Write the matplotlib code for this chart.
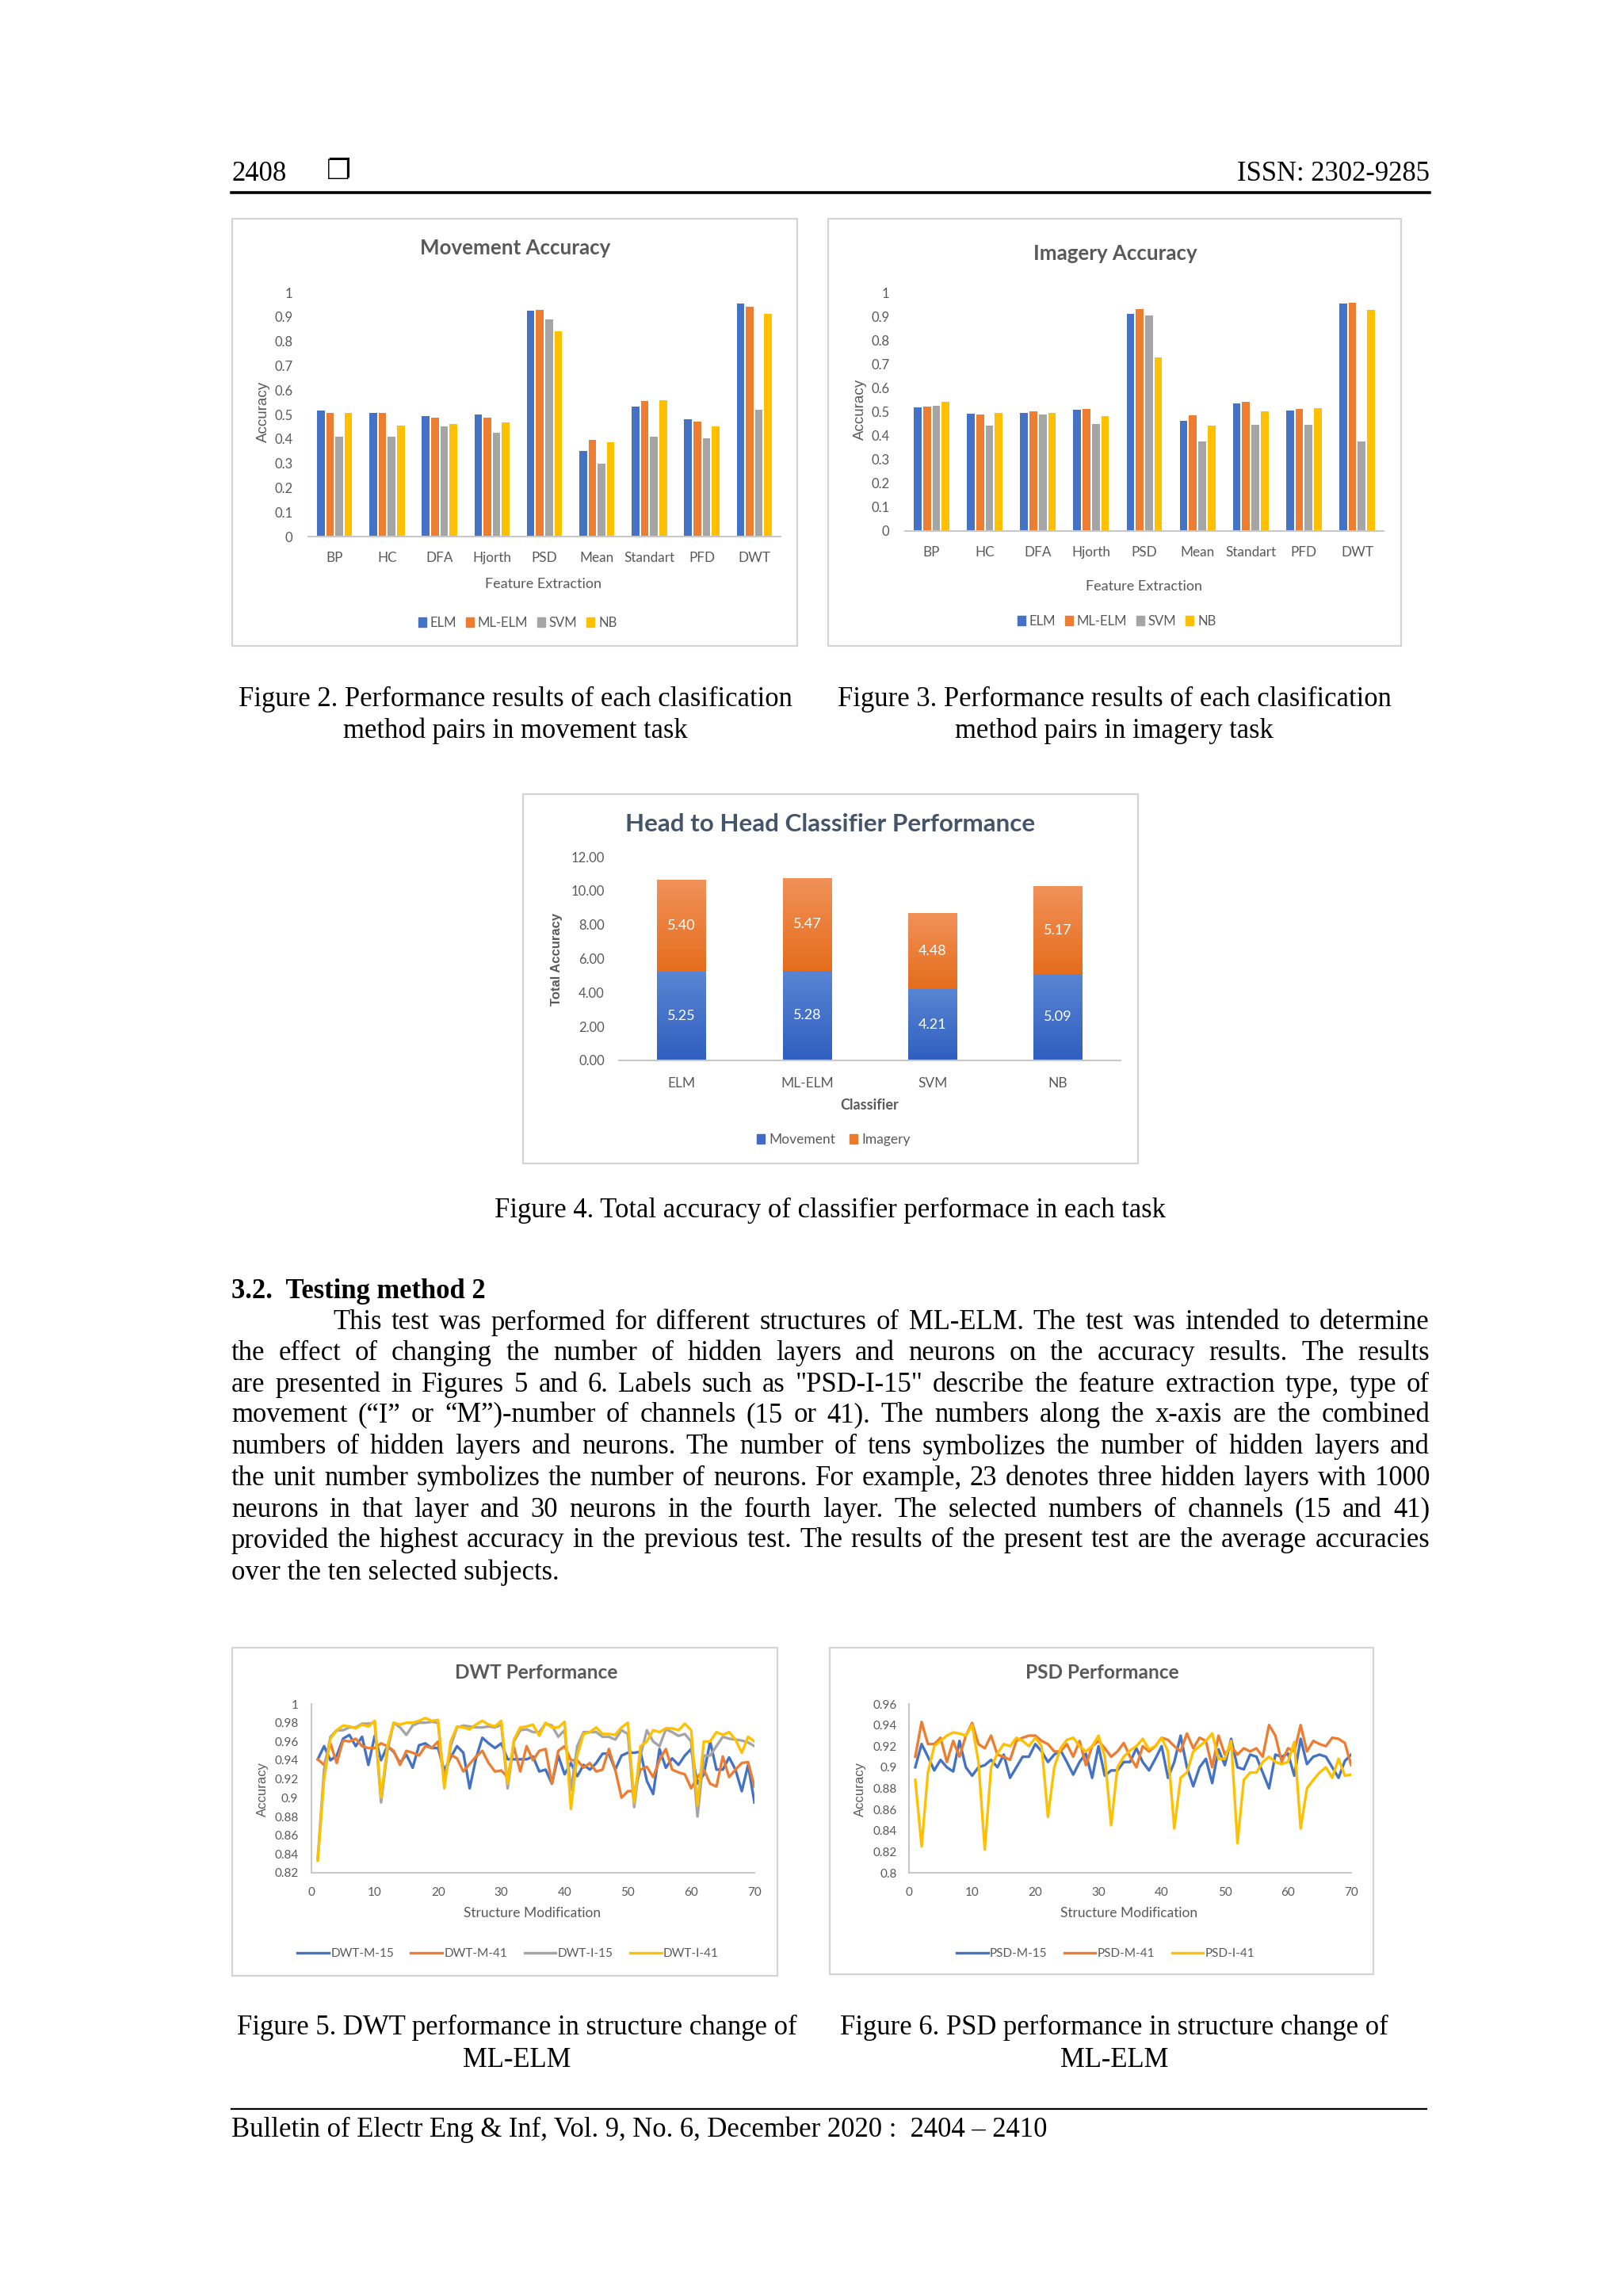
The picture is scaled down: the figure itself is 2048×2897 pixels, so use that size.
import numpy as np
import matplotlib
matplotlib.use("Agg")
import matplotlib.pyplot as plt
from matplotlib.patches import Rectangle
from matplotlib.lines import Line2D
from matplotlib.colors import LinearSegmentedColormap

# ---- data -------------------------------------------------------------
features = ["BP", "HC", "DFA", "Hjorth", "PSD", "Mean", "Standart", "PFD", "DWT"]
classifiers = ["ELM", "ML-ELM", "SVM", "NB"]

mov_elm = [0.516, 0.508, 0.492, 0.500, 0.925, 0.350, 0.532, 0.480, 0.955]
mov_mlelm = [0.508, 0.505, 0.488, 0.488, 0.928, 0.395, 0.555, 0.470, 0.940]
mov_svm = [0.410, 0.410, 0.450, 0.425, 0.891, 0.300, 0.410, 0.403, 0.520]
mov_nb = [0.508, 0.453, 0.460, 0.468, 0.840, 0.385, 0.557, 0.452, 0.913]

img_elm = [0.520, 0.493, 0.497, 0.510, 0.913, 0.462, 0.537, 0.508, 0.957]
img_mlelm = [0.524, 0.490, 0.505, 0.514, 0.934, 0.486, 0.542, 0.513, 0.960]
img_svm = [0.528, 0.444, 0.490, 0.450, 0.907, 0.377, 0.448, 0.448, 0.377]
img_nb = [0.545, 0.497, 0.497, 0.485, 0.730, 0.444, 0.505, 0.517, 0.929]

h2h_movement = [5.25, 5.28, 4.21, 5.09]
h2h_imagery = [5.40, 5.47, 4.48, 5.17]

structure = np.arange(1, 71)
dwt_m15 = [0.941, 0.955, 0.940, 0.945, 0.963, 0.967, 0.955, 0.965, 0.935, 0.966,
           0.940, 0.955, 0.949, 0.937, 0.946, 0.932, 0.956, 0.958, 0.953, 0.953,
           0.929, 0.943, 0.955, 0.948, 0.910, 0.942, 0.964, 0.958, 0.953, 0.958,
           0.941, 0.941, 0.941, 0.941, 0.944, 0.928, 0.930, 0.915, 0.945, 0.925,
           0.937, 0.923, 0.935, 0.930, 0.937, 0.947, 0.947, 0.930, 0.945, 0.948,
           0.948, 0.949, 0.918, 0.904, 0.952, 0.932, 0.942, 0.935, 0.945, 0.952,
           0.915, 0.925, 0.960, 0.930, 0.930, 0.943, 0.930, 0.907, 0.935, 0.895]
dwt_m41 = [0.941, 0.935, 0.958, 0.937, 0.961, 0.960, 0.963, 0.955, 0.953, 0.953,
           0.958, 0.955, 0.950, 0.935, 0.950, 0.948, 0.945, 0.955, 0.953, 0.960,
           0.922, 0.946, 0.942, 0.928, 0.936, 0.944, 0.950, 0.937, 0.928, 0.929,
           0.922, 0.954, 0.928, 0.955, 0.940, 0.950, 0.952, 0.915, 0.950, 0.955,
           0.940, 0.940, 0.932, 0.937, 0.928, 0.930, 0.952, 0.930, 0.900, 0.907,
           0.907, 0.930, 0.933, 0.922, 0.940, 0.952, 0.930, 0.927, 0.925, 0.910,
           0.922, 0.930, 0.915, 0.912, 0.944, 0.922, 0.930, 0.937, 0.938, 0.912]
dwt_i15 = [0.835, 0.930, 0.965, 0.972, 0.972, 0.975, 0.975, 0.979, 0.979, 0.980,
           0.895, 0.950, 0.980, 0.975, 0.967, 0.977, 0.980, 0.980, 0.981, 0.980,
           0.915, 0.955, 0.975, 0.977, 0.976, 0.975, 0.975, 0.976, 0.975, 0.978,
           0.910, 0.960, 0.972, 0.973, 0.970, 0.970, 0.979, 0.977, 0.965, 0.972,
           0.908, 0.955, 0.970, 0.970, 0.970, 0.965, 0.965, 0.962, 0.972, 0.968,
           0.890, 0.945, 0.972, 0.960, 0.955, 0.973, 0.970, 0.966, 0.968, 0.960,
           0.880, 0.945, 0.945, 0.955, 0.965, 0.963, 0.962, 0.961, 0.959, 0.955]
dwt_i41 = [0.833, 0.920, 0.963, 0.972, 0.977, 0.976, 0.974, 0.978, 0.976, 0.982,
           0.900, 0.955, 0.980, 0.978, 0.980, 0.980, 0.982, 0.985, 0.982, 0.983,
           0.910, 0.960, 0.976, 0.975, 0.973, 0.978, 0.982, 0.978, 0.976, 0.982,
           0.915, 0.962, 0.975, 0.976, 0.978, 0.966, 0.980, 0.975, 0.975, 0.981,
           0.888, 0.945, 0.968, 0.970, 0.975, 0.968, 0.968, 0.967, 0.975, 0.980,
           0.895, 0.955, 0.960, 0.972, 0.970, 0.974, 0.974, 0.972, 0.979, 0.972,
           0.892, 0.960, 0.960, 0.970, 0.967, 0.970, 0.962, 0.948, 0.965, 0.960]

psd_m15 = [0.900, 0.922, 0.910, 0.897, 0.907, 0.900, 0.896, 0.925, 0.900, 0.892,
           0.900, 0.902, 0.907, 0.900, 0.912, 0.890, 0.900, 0.910, 0.910, 0.922,
           0.915, 0.905, 0.912, 0.916, 0.905, 0.893, 0.905, 0.913, 0.890, 0.920,
           0.892, 0.897, 0.897, 0.905, 0.905, 0.918, 0.905, 0.897, 0.908, 0.920,
           0.890, 0.905, 0.930, 0.900, 0.882, 0.900, 0.908, 0.885, 0.917, 0.902,
           0.927, 0.900, 0.898, 0.912, 0.910, 0.895, 0.880, 0.912, 0.910, 0.913,
           0.892, 0.927, 0.903, 0.910, 0.912, 0.910, 0.900, 0.890, 0.906, 0.912]
psd_m41 = [0.910, 0.943, 0.922, 0.922, 0.928, 0.905, 0.925, 0.910, 0.930, 0.942,
           0.922, 0.918, 0.930, 0.912, 0.910, 0.907, 0.925, 0.928, 0.930, 0.930,
           0.925, 0.922, 0.915, 0.915, 0.922, 0.910, 0.925, 0.902, 0.920, 0.925,
           0.918, 0.910, 0.915, 0.923, 0.910, 0.900, 0.920, 0.915, 0.920, 0.928,
           0.926, 0.920, 0.915, 0.932, 0.918, 0.928, 0.925, 0.900, 0.930, 0.912,
           0.920, 0.912, 0.918, 0.915, 0.918, 0.910, 0.940, 0.930, 0.905, 0.918,
           0.915, 0.940, 0.915, 0.925, 0.922, 0.920, 0.928, 0.927, 0.923, 0.902]
psd_i41 = [0.888, 0.825, 0.895, 0.920, 0.925, 0.930, 0.933, 0.932, 0.930, 0.940,
           0.905, 0.822, 0.900, 0.913, 0.922, 0.920, 0.928, 0.925, 0.920, 0.928,
           0.920, 0.853, 0.900, 0.918, 0.926, 0.928, 0.920, 0.915, 0.920, 0.930,
           0.910, 0.845, 0.900, 0.910, 0.916, 0.920, 0.927, 0.917, 0.920, 0.928,
           0.915, 0.842, 0.890, 0.895, 0.915, 0.920, 0.925, 0.932, 0.908, 0.908,
           0.925, 0.828, 0.888, 0.895, 0.895, 0.905, 0.910, 0.905, 0.903, 0.905,
           0.924, 0.842, 0.880, 0.888, 0.895, 0.900, 0.890, 0.908, 0.892, 0.893]

body_lines = [
    "This test was performed for different structures of ML-ELM. The test was intended to determine",
    "the effect of changing the number of hidden layers and neurons on the accuracy results. The results",
    "are presented in Figures 5 and 6. Labels such as \"PSD-I-15\" describe the feature extraction type, type of",
    "movement (\u201cI\u201d or \u201cM\u201d)-number of channels (15 or 41). The numbers along the x-axis are the combined",
    "numbers of hidden layers and neurons. The number of tens symbolizes the number of hidden layers and",
    "the unit number symbolizes the number of neurons. For example, 23 denotes three hidden layers with 1000",
    "neurons in that layer and 30 neurons in the fourth layer. The selected numbers of channels (15 and 41)",
    "provided the highest accuracy in the previous test. The results of the present test are the average accuracies",
    "over the ten selected subjects.",
]

# ---- page setup ---------------------------------------------------------
W, H = 2048, 2897
fig = plt.figure(figsize=(W / 100, H / 100), dpi=100)
fig.patch.set_facecolor("white")

SERIF = "Liberation Serif"
CAL = "Lato"
ARIAL = "Liberation Sans"
GREY = "#595959"
AXCOL = "#c8c8c8"
COLORS = ["#4472C4", "#ED7D31", "#A5A5A5", "#FFC000"]
TXT = 24.9
DY = 4  # serif text sits a bit lower than its bbox centre


def fx(x):
    return x / W


def fy(y):
    return 1 - y / H


def put(x, y, s, **kw):
    kw.setdefault("va", "center")
    return fig.text(fx(x), fy(y), s, **kw)


def serif(x, y, s, **kw):
    return put(x, y + DY, s, family=SERIF, fontsize=TXT, **kw)


def axes_px(x0, y0, x1, y1):
    return fig.add_axes([fx(x0), fy(y1), (x1 - x0) / W, (y1 - y0) / H])


def frame(x0, y0, x1, y1):
    fig.add_artist(Rectangle((fx(x0), fy(y1)), (x1 - x0) / W, (y1 - y0) / H,
                             transform=fig.transFigure, fill=False,
                             edgecolor="#d4d4d4", lw=1.6))


def style_axes(ax, left_spine=False):
    for s in ["top", "right"]:
        ax.spines[s].set_visible(False)
    ax.spines["left"].set_visible(left_spine)
    ax.spines["left"].set_color(AXCOL)
    ax.spines["bottom"].set_color(AXCOL)
    ax.spines["left"].set_linewidth(1.5)
    ax.spines["bottom"].set_linewidth(1.5)
    ax.set_facecolor("none")


# ---- header -------------------------------------------------------------
serif(292, 216, "2408")
put(412, 214 + DY, "\u2750", family=[SERIF, "DejaVu Sans"], fontsize=TXT)
serif(1804, 216, "ISSN: 2302-9285", ha="right")
fig.add_artist(Line2D([fx(292), fx(1804)], [fy(243), fy(243)], color="black", lw=2.6))

# ---- accuracy bar panels -------------------------------------------------
def accuracy_panel(x0, y1, x1, y0, series, title, title_x, title_y, ylab_x,
                   xlab_x, xlab_y, leg_x, leg_y):
    ax = axes_px(x0, y1, x1, y0)
    idx = np.arange(len(features))
    for k, vals in enumerate(series):
        ax.bar(idx + (k - 1.5) * 0.175, vals, width=0.145, color=COLORS[k], zorder=2)
    ax.set_xlim(-0.5, len(features) - 0.5)
    ax.set_ylim(0, 1)
    style_axes(ax)
    ax.set_xticks(idx)
    ax.set_xticklabels(features, family=CAL, fontsize=12.3, color=GREY)
    ax.set_yticks(np.arange(0, 1.01, 0.1))
    ax.set_yticklabels(["0", "0.1", "0.2", "0.3", "0.4", "0.5", "0.6", "0.7", "0.8", "0.9", "1"],
                       family=CAL, fontsize=12, color=GREY)
    ax.tick_params(axis="x", length=0, pad=14)
    ax.tick_params(axis="y", length=0, pad=14)
    put(title_x, title_y, title, family=CAL, fontsize=18.6, weight="bold", color=GREY, ha="center")
    put(ylab_x, (y1 + y0) / 2 - 4, "Accuracy", family=ARIAL, fontsize=13.5, color=GREY,
        rotation=90, ha="center")
    put(xlab_x, xlab_y, "Feature Extraction", family=CAL, fontsize=13, color=GREY, ha="center")
    handles = [Rectangle((0, 0), 1, 1, color=c) for c in COLORS]
    fig.legend(handles, classifiers, loc="center", bbox_to_anchor=(fx(leg_x), fy(leg_y)),
               ncol=4, frameon=False, prop={"family": CAL, "size": 12},
               labelcolor=GREY, handlelength=0.6, handleheight=0.7,
               handletextpad=0.3, columnspacing=0.7)
    return ax


frame(293, 276, 1006, 815)
accuracy_panel(389, 369, 985, 677, [mov_elm, mov_mlelm, mov_svm, mov_nb],
               "Movement Accuracy", 650, 313, 332, 685, 737, 653, 786)
frame(1045, 276, 1768, 815)
accuracy_panel(1142, 370, 1746, 670, [img_elm, img_mlelm, img_svm, img_nb],
               "Imagery Accuracy", 1407, 320, 1085, 1443, 740, 1409, 784)

serif(650, 878, "Figure 2. Performance results of each clasification", ha="center")
serif(650, 918, "method pairs in movement task", ha="center")
serif(1406, 878, "Figure 3. Performance results of each clasification", ha="center")
serif(1406, 918, "method pairs in imagery task", ha="center")

# ---- head to head stacked bars --------------------------------------------
frame(660, 1002, 1436, 1468)
ax4 = axes_px(781, 1081, 1414, 1338)
pos = np.arange(len(classifiers))
b_mov = ax4.bar(pos, h2h_movement, width=0.39, color="#4472C4", zorder=2)
b_img = ax4.bar(pos, h2h_imagery, width=0.39, bottom=h2h_movement, color="#ED7D31", zorder=2)


def shade(ax, bars, c_low, c_high):
    cmap = LinearSegmentedColormap.from_list("g", [c_low, c_high])
    grad = np.linspace(0, 1, 64).reshape(-1, 1)
    for b in bars:
        x, y, w, h = b.get_x(), b.get_y(), b.get_width(), b.get_height()
        im = ax.imshow(grad, extent=(x, x + w, y, y + h), origin="lower", cmap=cmap,
                       aspect="auto", zorder=2.1)
        im.set_clip_path(b)


shade(ax4, b_mov, "#2f5fbf", "#5a85d4")
shade(ax4, b_img, "#e56d1c", "#f19158")
ax4.set_xlim(-0.5, 3.5)
ax4.set_ylim(0, 12)
style_axes(ax4)
ax4.set_xticks(pos)
ax4.set_xticklabels(classifiers, family=CAL, fontsize=12.5, color=GREY)
ax4.set_yticks(np.arange(0, 12.1, 2))
ax4.set_yticklabels(["%.2f" % v for v in np.arange(0, 12.1, 2)], family=CAL, fontsize=12, color=GREY)
ax4.tick_params(axis="x", length=0, pad=15)
ax4.tick_params(axis="y", length=0, pad=13)
for b, v in zip(b_mov, h2h_movement):
    ax4.text(b.get_x() + b.get_width() / 2, b.get_y() + b.get_height() / 2, "%.2f" % v,
             ha="center", va="center", color="white", family=CAL, fontsize=13, zorder=5)
for b, v in zip(b_img, h2h_imagery):
    ax4.text(b.get_x() + b.get_width() / 2, b.get_y() + b.get_height() / 2, "%.2f" % v,
             ha="center", va="center", color="white", family=CAL, fontsize=13, zorder=5)
put(1048, 1040, "Head to Head Classifier Performance", family=CAL, fontsize=22.6, weight="bold",
    color="#44546A", ha="center")
put(702, 1210, "Total Accuracy", family=ARIAL, fontsize=12, weight="bold", color=GREY,
    rotation=90, ha="center")
put(1097, 1394, "Classifier", family=CAL, fontsize=13, weight="bold", color=GREY, ha="center")
fig.legend([Rectangle((0, 0), 1, 1, color="#3f6cc8"), Rectangle((0, 0), 1, 1, color="#ea7a2c")],
           ["Movement", "Imagery"], loc="center", bbox_to_anchor=(fx(1052), fy(1438)),
           ncol=2, frameon=False, prop={"family": CAL, "size": 12.5}, labelcolor=GREY,
           handlelength=0.6, handleheight=0.7, handletextpad=0.3, columnspacing=1.0)

serif(1048, 1523, "Figure 4. Total accuracy of classifier performace in each task", ha="center")

# ---- section text ---------------------------------------------------------
serif(292, 1626, "3.2.  Testing method 2", weight="bold")


def justify(line, x0, x1, y):
    words = line.split(" ")
    items = [serif(0, y, w) for w in words]
    r = fig.canvas.get_renderer()
    widths = [t.get_window_extent(r).width for t in items]
    gap = (x1 - x0 - sum(widths)) / (len(words) - 1)
    x = x0
    for t, w in zip(items, widths):
        t.set_position((fx(x), fy(y + DY)))
        x += w + gap


line_y = [1665, 1704, 1743, 1782, 1822, 1861, 1901, 1940, 1980]
for i, (txt, yy) in enumerate(zip(body_lines, line_y)):
    start = 420 if i == 0 else 292
    if i == len(body_lines) - 1:
        serif(start, yy, txt)
    else:
        justify(txt, start, 1804, yy)

# ---- line panels ------------------------------------------------------------
def line_panel(x0, y1, x1, y0, series, names, colors, ylim, yticks, ylabels, title, title_x,
               ylab_x, xlab_x, leg_x, ypad):
    ax = axes_px(x0, y1, x1, y0)
    for vals, name, c in zip(series, names, colors):
        ax.plot(structure, vals, color=c, lw=2.4, solid_joinstyle="round", label=name, zorder=3)
    ax.set_xlim(0, 70)
    ax.set_ylim(*ylim)
    style_axes(ax, left_spine=True)
    ax.set_xticks(np.arange(0, 71, 10))
    ax.set_xticklabels([str(v) for v in range(0, 71, 10)], family=CAL, fontsize=11, color=GREY)
    ax.set_yticks(yticks)
    ax.set_yticklabels(ylabels, family=CAL, fontsize=11, color=GREY)
    ax.tick_params(axis="x", length=0, pad=13)
    ax.tick_params(axis="y", length=0, pad=ypad)
    put(title_x, 2110, title, family=CAL, fontsize=17.6, weight="bold", color=GREY, ha="center")
    put(ylab_x, 2258, "Accuracy", family=ARIAL, fontsize=12, color=GREY, rotation=90, ha="center")
    put(xlab_x, 2414, "Structure Modification", family=CAL, fontsize=12.5, color=GREY, ha="center")
    hs, ls = ax.get_legend_handles_labels()
    fig.legend(hs, ls, loc="center", bbox_to_anchor=(fx(leg_x), fy(2465)), ncol=len(series),
               frameon=False, prop={"family": CAL, "size": 11}, labelcolor=GREY,
               handlelength=2.6, handletextpad=0.15, columnspacing=1.4)
    return ax


frame(293, 2079, 981, 2493)
line_panel(393, 2150, 952, 2363, [dwt_m15, dwt_m41, dwt_i15, dwt_i41],
           ["DWT-M-15", "DWT-M-41", "DWT-I-15", "DWT-I-41"], COLORS, (0.82, 1.0),
           np.arange(0.82, 1.001, 0.02),
           ["0.82", "0.84", "0.86", "0.88", "0.9", "0.92", "0.94", "0.96", "0.98", "1"],
           "DWT Performance", 677, 331, 672, 641, 12)
frame(1047, 2079, 1733, 2491)
line_panel(1147, 2150, 1705, 2363, [psd_m15, psd_m41, psd_i41],
           ["PSD-M-15", "PSD-M-41", "PSD-I-41"], [COLORS[0], COLORS[1], COLORS[3]], (0.80, 0.96),
           np.arange(0.80, 0.961, 0.02),
           ["0.8", "0.82", "0.84", "0.86", "0.88", "0.9", "0.92", "0.94", "0.96"],
           "PSD Performance", 1391, 1085, 1425, 1395, 11)

serif(652, 2554, "Figure 5. DWT performance in structure change of", ha="center")
serif(652, 2595, "ML-ELM", ha="center")
serif(1406, 2554, "Figure 6. PSD performance in structure change of", ha="center")
serif(1406, 2595, "ML-ELM", ha="center")

# ---- footer -------------------------------------------------------------------
fig.add_artist(Line2D([fx(292), fx(1800)], [fy(2661), fy(2661)], color="black", lw=1.6))
serif(292, 2683, "Bulletin of Electr Eng & Inf, Vol. 9, No. 6, December 2020 :  2404 \u2013 2410")

fig.savefig("out.png", dpi=100, facecolor="white")
